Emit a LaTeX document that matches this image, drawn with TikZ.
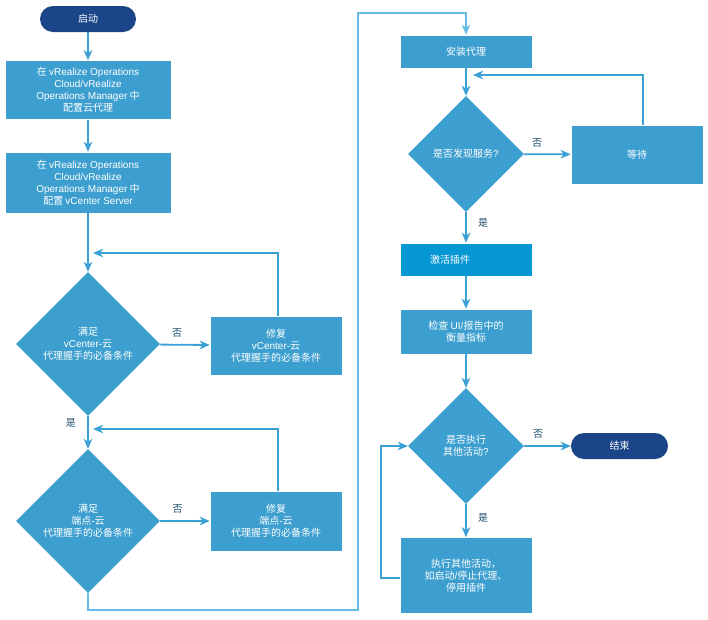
\documentclass[tikz,border=0pt]{standalone}
\usepackage{fontspec}
\setmainfont{Noto Sans CJK SC}
\newfontfamily\latnfont{Liberation Sans}
\usetikzlibrary{shapes.geometric,arrows.meta,calc}
\definecolor{boxblue}{HTML}{3D9FCF}
\definecolor{actblue}{HTML}{0597D4}
\definecolor{navy}{HTML}{1B4589}
\definecolor{lineblue}{HTML}{3AA0D6}
\definecolor{lightline}{HTML}{62BCE4}
\definecolor{lbl}{HTML}{1F4F70}
\newcommand{\latword}[1]{{\latnfont #1}}
\begin{document}
\begin{tikzpicture}[x=1pt,y=-1pt,
  every node/.style={font=\fontsize{10}{12}\selectfont},
  procbox/.style={draw=white,line width=0.6pt,fill=boxblue,text=white,align=center,inner sep=2pt},
  term/.style={fill=navy,text=white,rounded corners=13pt,minimum height=26pt,inner sep=0pt},
  dec/.style={diamond,fill=boxblue,text=white,align=center,inner sep=0pt,aspect=1},
  arr/.style={draw=lineblue,line width=1.8pt,-{Stealth[length=10pt,width=8.5pt,inset=3pt]}},
  lab/.style={text=lbl,font=\fontsize{10}{12}\selectfont}]
\useasboundingbox (0,0) rectangle (708,619);
\fill[white] (0,0) rectangle (708,619);
% left column
\node[term,minimum width=96pt] (start) at (88,19) {启动};
\node[procbox,minimum width=166pt,minimum height=59pt] (b1) at (88,90) {在 \latword{vRealize Operations}\\\latword{Cloud/vRealize}\\\latword{Operations Manager} 中\\配置云代理};
\node[procbox,minimum width=166pt,minimum height=61pt] (b2) at (88,182.5) {在 \latword{vRealize Operations}\\\latword{Cloud/vRealize}\\\latword{Operations Manager} 中\\配置 \latword{vCenter Server}};
\node[dec,minimum width=144pt,minimum height=144pt] (d1) at (88,344) {满足\\\latword{vCenter-}云\\代理握手的必备条件};
\node[procbox,minimum width=132pt,minimum height=59pt] (f1) at (276,345.5) {修复\\\latword{vCenter-}云\\代理握手的必备条件};
\node[dec,minimum width=144pt,minimum height=144pt] (d2) at (88,521) {满足\\端点\latword{-}云\\代理握手的必备条件};
\node[procbox,minimum width=132pt,minimum height=60pt] (f2) at (276,521) {修复\\端点\latword{-}云\\代理握手的必备条件};
% right column
\node[procbox,minimum width=132pt,minimum height=33pt] (inst) at (466,51.5) {安装代理};
\node[dec,minimum width=116pt,minimum height=116pt] (d3) at (466,154) {是否发现服务\latword{?}};
\node[procbox,minimum width=132pt,minimum height=59pt] (wait) at (637,154.5) {等待};
\node[procbox,fill=actblue,minimum width=132pt,minimum height=33pt,text width=126pt,align=left] (act) at (466,259.5) {\hspace*{27pt}激活插件};
\node[procbox,minimum width=132pt,minimum height=45pt] (chk) at (466,331.5) {检查 \latword{UI/}报告中的\\衡量指标};
\node[dec,minimum width=116pt,minimum height=116pt] (d4) at (466,446) {是否执行\\其他活动\latword{?}};
\node[term,minimum width=97pt] (end) at (619.5,446) {结束};
\node[procbox,minimum width=132pt,minimum height=76pt] (ex) at (466,575.5) {执行其他活动，\\如启动\latword{/}停止代理、\\停用插件};
% connectors
\draw[arr] (start) -- (b1);
\draw[arr] (b1) -- (b2);
\draw[arr] (b2) -- (d1);
\draw[arr] (d1) -- node[lab,above=3pt,pos=0.35]{否} (f1);
\coordinate (l1) at (93,253);
\draw[arr] (f1.north -| 278,0) -- (278,253) -- (l1);
\draw[arr] (d1) -- node[lab,left=8pt,pos=0.2]{是} (d2);
\coordinate (l2) at (93,429);
\draw[arr] (f2.north -| 278,0) -- (278,429) -- (l2);
\draw[arr] (d2) -- node[lab,above=3pt,pos=0.35]{否} (f2);
\draw[arr,draw=lightline] (d2.south) -- (88,610) -- (358,610) -- (358,13) -- (466,13) -- (inst.north);
\draw[arr] (inst) -- (d3);
\draw[arr] (d3) -- node[lab,above=3pt,pos=0.28]{否} (wait);
\coordinate (l3) at (473,75);
\draw[arr] (wait.north -| 643,0) -- (643,75) -- (l3);
\draw[arr] (d3) -- node[lab,right=8pt,pos=0.35]{是} (act);
\draw[arr] (act) -- (chk);
\draw[arr] (chk) -- (d4);
\draw[arr] (d4) -- node[lab,above=3pt,pos=0.3]{否} (end);
\draw[arr] (d4) -- node[lab,right=8pt,pos=0.4]{是} (ex);
\draw[arr] (ex.west |- 0,578) -- (381,578) -- (381,446) -- (d4.west);
\end{tikzpicture}
\end{document}
